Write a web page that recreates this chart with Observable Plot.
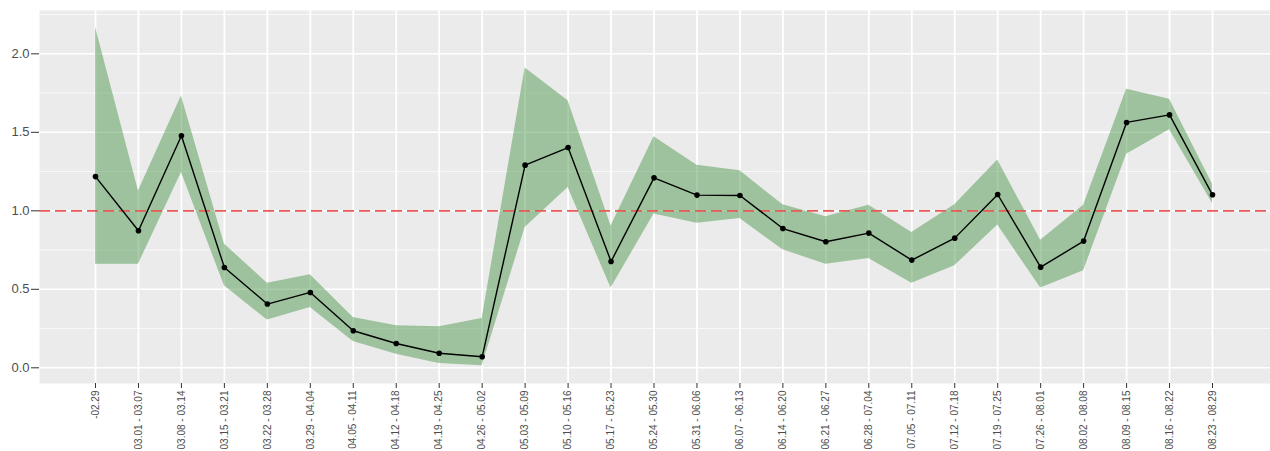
<!DOCTYPE html>
<html>
<head>
<meta charset="utf-8">
<script src="https://cdn.jsdelivr.net/npm/d3@7"></script>
<script src="https://cdn.jsdelivr.net/npm/@observablehq/plot@0.6"></script>
<style>
  html, body { margin: 0; padding: 0; background: #ffffff; }
  #chart svg { display: block; }
</style>
</head>
<body>
<div id="chart"></div>
<script>
const weeks = ["-02.29", "03.01 - 03.07", "03.08 - 03.14", "03.15 - 03.21", "03.22 - 03.28", "03.29 - 04.04",
  "04.05 - 04.11", "04.12 - 04.18", "04.19 - 04.25", "04.26 - 05.02", "05.03 - 05.09", "05.10 - 05.16",
  "05.17 - 05.23", "05.24 - 05.30", "05.31 - 06.06", "06.07 - 06.13", "06.14 - 06.20", "06.21 - 06.27",
  "06.28 - 07.04", "07.05 - 07.11", "07.12 - 07.18", "07.19 - 07.25", "07.26 - 08.01", "08.02 - 08.08",
  "08.09 - 08.15", "08.16 - 08.22", "08.23 - 08.29"];
const estimate = [1.218, 0.873, 1.478, 0.639, 0.406, 0.480, 0.236, 0.155, 0.093, 0.070, 1.291, 1.403,
  0.677, 1.210, 1.100, 1.098, 0.887, 0.803, 0.858, 0.686, 0.826, 1.104, 0.641, 0.807, 1.563, 1.611, 1.102];
const lower = [0.66, 0.66, 1.244, 0.522, 0.304, 0.384, 0.168, 0.087, 0.028, 0.013, 0.894, 1.148,
  0.508, 0.979, 0.921, 0.951, 0.752, 0.660, 0.696, 0.539, 0.650, 0.909, 0.508, 0.618, 1.361, 1.516, 1.047];
const upper = [2.17, 1.127, 1.732, 0.788, 0.539, 0.592, 0.320, 0.268, 0.261, 0.314, 1.909, 1.701,
  0.904, 1.471, 1.291, 1.255, 1.038, 0.962, 1.036, 0.862, 1.038, 1.323, 0.813, 1.036, 1.775, 1.711, 1.170];
const yTicks = [0, 0.5, 1, 1.5, 2];
const yMinor = [0.25, 0.75, 1.25, 1.75, 2.25];
const reference = [1];

const rows = weeks.map((w, i) => ({i, week: w, est: estimate[i], lo: lower[i], hi: upper[i]}));
const idx = weeks.map((w, i) => i);

const chart = Plot.plot({
  width: 1270,
  height: 451,
  marginLeft: 39,
  marginRight: 0,
  marginTop: 10,
  marginBottom: 68,
  style: {fontFamily: "'Liberation Sans', Arial, sans-serif", background: "#ffffff"},
  x: {type: "linear", domain: [-1.3036, 27.35], label: null},
  y: {domain: [-0.1, 2.276], label: null},
  marks: [
    Plot.frame({fill: "#ebebeb", stroke: null}),
    Plot.gridY(yMinor, {stroke: "#ffffff", strokeOpacity: 1, strokeWidth: 0.7}),
    Plot.gridY(yTicks, {stroke: "#ffffff", strokeOpacity: 1, strokeWidth: 1.5}),
    Plot.gridX(idx, {stroke: "#ffffff", strokeOpacity: 1, strokeWidth: 1.8}),
    Plot.areaY(rows, {x: "i", y1: "lo", y2: "hi", fill: "#358a35", fillOpacity: 0.43}),
    Plot.ruleY(reference, {stroke: "#e85a54", strokeWidth: 1.8, strokeDasharray: "11,5"}),
    Plot.line(rows, {x: "i", y: "est", stroke: "#000000", strokeWidth: 1.4}),
    Plot.dot(rows, {x: "i", y: "est", r: 2.8, fill: "#000000", stroke: null}),
    Plot.axisY(yTicks, {tickSize: 8, tickPadding: 2, fontSize: 13, fill: "#4d4d4d", stroke: "#333333",
      tickFormat: d => d.toFixed(1)}),
    Plot.axisX(idx, {tickSize: 5, tickPadding: 2, tickRotate: -90, fontSize: 10, fill: "#4d4d4d", stroke: "#333333",
      label: null, tickFormat: i => weeks[i]})
  ]
});
document.getElementById("chart").appendChild(chart);
</script>
</body>
</html>
